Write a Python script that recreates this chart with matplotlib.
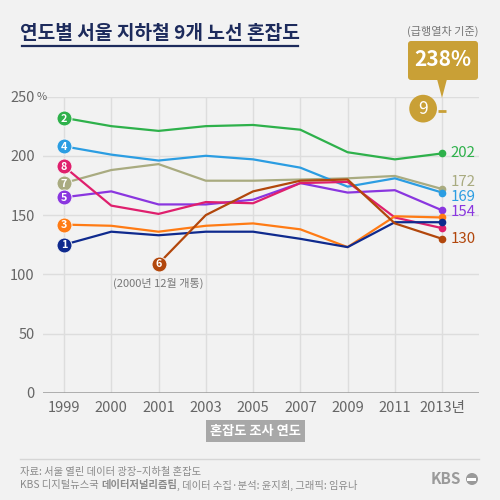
import matplotlib
matplotlib.use("Agg")
import matplotlib.pyplot as plt
from matplotlib.patches import FancyBboxPatch, Polygon, Circle, Rectangle
from matplotlib.lines import Line2D

plt.rcParams['font.family'] = ['Noto Sans CJK KR', 'DejaVu Sans']

# survey years (x categories)
years = ['1999', '2000', '2001', '2003', '2005', '2007', '2009', '2011', '2013년']

# congestion (%) per line
line1 = [125, 136, 133, 136, 136, 130, 123, 144, 144]
line2 = [232, 225, 221, 225, 226, 222, 203, 197, 202]
line3 = [142, 141, 136, 141, 143, 138, 123, 149, 148]
line4 = [208, 201, 196, 200, 197, 190, 174, 181, 169]
line5 = [165, 170, 159, 159, 163, 177, 169, 171, 154]
line6 = [None, None, 109, 150, 170, 179, 180, 143, 130]
line7 = [177, 188, 193, 179, 179, 180, 181, 183, 172]
line8 = [191, 158, 151, 161, 160, 177, 178, 148, 139]
line9 = 238  # only 2013, express trains

series = {'1': line1, '2': line2, '3': line3, '4': line4, '5': line5,
          '6': line6, '7': line7, '8': line8}
colors = {'1': '#0f2a8e', '2': '#2eb14b', '3': '#ff7b14', '4': '#2b9de2',
          '5': '#8a36df', '6': '#b2470c', '7': '#a9ab80', '8': '#df1f6d',
          '9': '#c9a036'}
# end labels shown only for some lines, with small vertical nudges (px)
end_label = {'2': 0, '7': -7, '4': 4, '5': 2, '6': 0}
draw_order = ['7', '2', '4', '5', '8', '3', '1', '6']

BG = '#f2f2f2'
GRAY = '#666666'

fig = plt.figure(figsize=(5, 5), dpi=100, facecolor=BG)


def px(x, y):
    return (x / 500, 1 - y / 500)


ax = fig.add_axes([0.086, 0.214, 0.872, 0.593])
ax.set_facecolor(BG)
x = list(range(len(years)))
ax.set_xlim(-0.444, 8.78)
ax.set_ylim(0, 250)

for s in ax.spines.values():
    s.set_visible(False)
for v in range(50, 251, 50):
    ax.axhline(v, color='#dddddd', lw=1, zorder=0)
ax.axhline(0, color='#9a9a9a', lw=1.8, zorder=1)
for xi in x:
    ax.axvline(xi, color='#dddddd', lw=1, zorder=0)

ax.set_yticks(range(0, 251, 50))
ax.set_yticklabels([str(v) for v in range(0, 251, 50)], fontsize=10.5, color=GRAY)
ax.set_xticks(x)
ax.set_xticklabels(years, fontsize=10.5, color=GRAY)
ax.tick_params(length=0, pad=6)
ax.tick_params(axis='y', pad=6)
fig.text(*px(37, 97), '%', fontsize=8, color=GRAY, va='center', ha='left')

for k in draw_order:
    vals = series[k]
    xs = [xi for xi, v in zip(x, vals) if v is not None]
    ys = [v for v in vals if v is not None]
    c = colors[k]
    ax.plot(xs, ys, color=c, lw=1.6, zorder=3, solid_capstyle='round')
    ax.plot(xs[-1], ys[-1], 'o', color=c, ms=4.5, zorder=4)
    ax.plot(xs[0], ys[0], 'o', color=c, ms=10.8, zorder=5, mec='#f6f6f6', mew=0.7)
    ax.text(xs[0], ys[0] - 0.6, k, color='white', fontsize=7.8, fontweight='bold',
            ha='center', va='center', zorder=6)
    if k in end_label:
        ax.annotate(str(ys[-1]), (xs[-1], ys[-1]), xytext=(6, -end_label[k] * 0.72),
                    textcoords='offset points', color=c, fontsize=10.8,
                    ha='left', va='center', zorder=6)

# line 9: single point at 2013
ax.plot(x[-1], line9, marker='_', color=colors['9'], ms=6, mew=2, zorder=4)
ax.annotate('9', (x[-1], line9), xytext=(-13.7, 1.5), textcoords='offset points',
            fontsize=12.5, color='white', ha='center', va='center', zorder=7,
            bbox=dict(boxstyle='circle,pad=0.28', fc=colors['9'], ec='none'))

ax.text(x[2], 92, '(2000년 12월 개통)', fontsize=8, color='#777777',
        ha='center', va='center')

# callout for line 9
box = FancyBboxPatch(px(408, 80), 70 / 500, 39 / 500,
                     boxstyle='round,pad=0,rounding_size=0.006',
                     transform=fig.transFigure, fc=colors['9'], ec='none')
fig.add_artist(box)
fig.add_artist(Polygon([px(437, 79), px(447, 79), px(442, 98)], closed=True,
                       transform=fig.transFigure, fc=colors['9'], ec='none'))
fig.text(*px(443, 60), f'{line9}%', fontsize=15, fontweight='bold', color='white',
         ha='center', va='center')
fig.text(*px(443, 31), '(급행열차 기준)', fontsize=8, color='#777777',
         ha='center', va='center')

# title
fig.text(*px(20, 33), '연도별 서울 지하철 9개 노선 혼잡도', fontsize=13.8,
         fontweight='bold', color='#1d2b5c', ha='left', va='center')
fig.add_artist(Line2D([22 / 500, 298 / 500], [1 - 46 / 500] * 2, color='#1d2b5c', lw=1.6))

# x axis caption
fig.text(*px(255.5, 431), '혼잡도 조사 연도', fontsize=9.5, color='white',
         fontweight='bold', ha='center', va='center',
         bbox=dict(boxstyle='square,pad=0.3', fc='#a8a8a8', ec='none'))

# footer
fig.add_artist(Line2D([20 / 500, 479 / 500], [1 - 459 / 500] * 2, color='#d6d6d6', lw=1))
FOOT = '#8a8a8a'
fig.text(*px(20, 472), '자료: 서울 열린 데이터 광장–지하철 혼잡도', fontsize=7.4,
         color=FOOT, ha='left', va='center')
renderer = fig.canvas.get_renderer()
xpos = 20
for txt, wt in [('KBS 디지털뉴스국 ', 'normal'), ('데이터저널리즘팀', 'bold'),
                (', 데이터 수집·분석: 윤지희, 그래픽: 임유나', 'normal')]:
    t = fig.text(*px(xpos, 485), txt, fontsize=7.4, color=FOOT, fontweight=wt,
                 ha='left', va='center')
    xpos += t.get_window_extent(renderer).width

fig.text(*px(461, 479), 'KBS', fontsize=11, color='#9a9a9a', fontweight='bold',
         ha='right', va='center')
fig.add_artist(Circle(px(472, 479), 6 / 500, transform=fig.transFigure,
                      fc='#9a9a9a', ec='none'))
fig.add_artist(Rectangle(px(467, 480.5), 9 / 500, 3 / 500, transform=fig.transFigure,
                         fc='white', ec='none'))

fig.savefig('out.png', dpi=100, facecolor=BG)
